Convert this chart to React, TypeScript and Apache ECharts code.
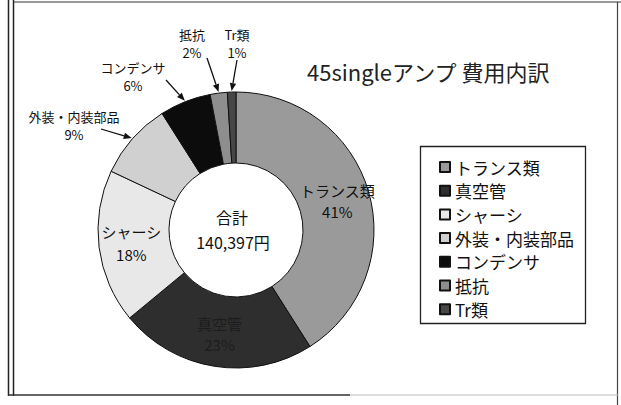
import React, { useEffect, useRef } from "react";
import * as echarts from "echarts";

const categories = ["トランス類", "真空管", "シャーシ", "外装・内装部品", "コンデンサ", "抵抗", "Tr類"];
const shares = [41, 23, 18, 9, 6, 2, 1];
const sliceColors = ["#9a9a9a", "#2e2e2e", "#e8e8e8", "#d0d0d0", "#0c0c0c", "#8e8e8e", "#474747"];
const titleText = "45singleアンプ 費用内訳";
const centerLines = ["合計", "140,397円"];

// layout of the callout labels (outside the ring)
const outsideLabelPos: Record<string, [number, number]> = {
  "抵抗": [192, 43],
  "Tr類": [237, 43],
  "コンデンサ": [133, 76],
  "外装・内装部品": [74, 125],
};
const arrowStart: Record<string, [number, number]> = {
  "抵抗": [207, 58],
  "Tr類": [237, 60],
  "コンデンサ": [166, 80],
  "外装・内装部品": [101, 129],
};

const FONT = "'Noto Sans CJK JP', 'Noto Sans', sans-serif";
const CX = 236;
const CY = 230;
const R_IN = 67;
const R_OUT = 138;

export default function App() {
  const ref = useRef<HTMLDivElement>(null);
  useEffect(() => {
    document.body.style.margin = "0";
    if (!ref.current) return;
    const chart = echarts.init(ref.current, undefined, { renderer: "svg" });

    const total = shares.reduce((a, b) => a + b, 0);
    const arrows: any[] = [];
    let cum = 0;
    categories.forEach((name, i) => {
      const mid = ((cum + shares[i] / 2) / total) * Math.PI * 2;
      cum += shares[i];
      const s = arrowStart[name];
      if (!s) return;
      const tx = CX + (R_OUT + 1) * Math.sin(mid);
      const ty = CY - (R_OUT + 1) * Math.cos(mid);
      const dx = tx - s[0];
      const dy = ty - s[1];
      const len = Math.sqrt(dx * dx + dy * dy);
      const ux = dx / len;
      const uy = dy / len;
      const hl = 8;
      const hw = 3.2;
      const bx = tx - ux * hl;
      const by = ty - uy * hl;
      arrows.push({
        type: "line",
        shape: { x1: s[0], y1: s[1], x2: bx, y2: by },
        style: { stroke: "#111", lineWidth: 1.3 },
      });
      arrows.push({
        type: "polygon",
        shape: {
          points: [
            [tx, ty],
            [bx - uy * hw, by + ux * hw],
            [bx + uy * hw, by - ux * hw],
          ],
        },
        style: { fill: "#111" },
      });
    });

    const insideLabel: Record<string, any> = {
      "トランス類": { fontSize: 15, lineHeight: 21 },
      "シャーシ": { fontSize: 15, lineHeight: 23 },
      "真空管": { fontSize: 15, lineHeight: 21, color: "#1d1d1d" },
    };

    chart.setOption({
      animation: false,
      backgroundColor: "#ffffff",
      textStyle: { fontFamily: FONT },
      legend: {
        orient: "vertical",
        left: 434,
        top: 153,
        itemWidth: 10,
        itemHeight: 10,
        itemGap: 5.7,
        icon: "rect",
        selectedMode: false,
        data: categories,
        textStyle: { fontSize: 17, lineHeight: 18, color: "#111", fontFamily: FONT },
      },
      series: [
        {
          type: "pie",
          center: [CX, CY],
          radius: [R_IN, R_OUT],
          startAngle: 90,
          clockwise: true,
          percentPrecision: 0,
          avoidLabelOverlap: false,
          itemStyle: { borderColor: "#111", borderWidth: 1 },
          label: {
            show: true,
            position: "inside",
            formatter: "{b}\n{d}%",
            fontSize: 13,
            lineHeight: 18,
            color: "#111",
            fontFamily: FONT,
            align: "center",
          },
          labelLine: { show: false },
          labelLayout: (params: any) => {
            const name = categories[params.dataIndex];
            const p = outsideLabelPos[name];
            if (p) {
              return { x: p[0], y: p[1], align: "center", verticalAlign: "middle" };
            }
            return {};
          },
          data: categories.map((name, i) => ({
            name,
            value: shares[i],
            itemStyle: { color: sliceColors[i] },
            label: insideLabel[name],
          })),
        },
      ],
      graphic: [
        // chart frame
        { type: "line", shape: { x1: 8.5, y1: 0, x2: 8.5, y2: 396 }, style: { stroke: "#222", lineWidth: 1.5 } },
        { type: "line", shape: { x1: 13.5, y1: 0, x2: 13.5, y2: 396 }, style: { stroke: "#222", lineWidth: 1.5 } },
        { type: "line", shape: { x1: 13, y1: 2, x2: 621, y2: 2 }, style: { stroke: "#333", lineWidth: 1.2 } },
        { type: "line", shape: { x1: 617.5, y1: 2, x2: 617.5, y2: 405 }, style: { stroke: "#444", lineWidth: 1.2 } },
        { type: "line", shape: { x1: 8, y1: 395, x2: 350, y2: 395 }, style: { stroke: "#333", lineWidth: 1.5 } },
        { type: "line", shape: { x1: 350, y1: 395, x2: 618, y2: 395 }, style: { stroke: "#bbb", lineWidth: 1 } },
        // legend box
        { type: "rect", shape: { x: 420.5, y: 146.5, width: 165, height: 177 }, style: { fill: "none", stroke: "#222", lineWidth: 1.3 } },
        // title
        {
          type: "text",
          x: 307,
          y: 71,
          style: { text: titleText, fontSize: 22, fill: "#222", fontFamily: FONT, verticalAlign: "middle", align: "left" },
        },
        // center total
        {
          type: "text",
          x: 232,
          y: 217,
          style: { text: centerLines[0], fontSize: 16, fill: "#111", fontFamily: FONT, align: "center", verticalAlign: "middle" },
        },
        {
          type: "text",
          x: 233,
          y: 242,
          style: { text: centerLines[1], fontSize: 16, fill: "#111", fontFamily: FONT, align: "center", verticalAlign: "middle" },
        },
        ...arrows,
      ],
    });
    return () => chart.dispose();
  }, []);
  return <div ref={ref} style={{ width: 621, height: 405 }} />;
}
